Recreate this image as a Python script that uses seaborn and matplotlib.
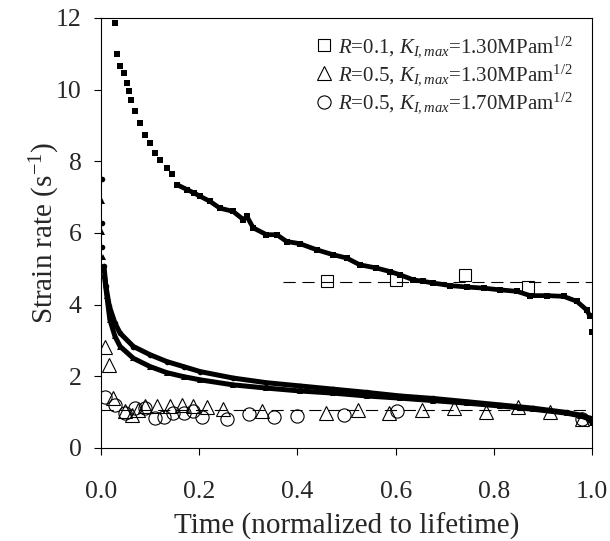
import numpy as np
import pandas as pd
import matplotlib
matplotlib.use("Agg")
import matplotlib.pyplot as plt
import seaborn as sns

# filled small squares, R=0.1 curve
sq_x = [0.0285, 0.033, 0.039, 0.047, 0.052, 0.057, 0.061, 0.069, 0.079, 0.090, 0.100, 0.110,
        0.120, 0.134, 0.144, 0.154, 0.175, 0.190, 0.202, 0.222, 0.242, 0.269, 0.290, 0.297,
        0.310, 0.337, 0.358, 0.378, 0.405, 0.439, 0.473, 0.500, 0.527, 0.561, 0.589, 0.609,
        0.636, 0.656, 0.677, 0.711, 0.745, 0.779, 0.813, 0.847, 0.874, 0.908, 0.942, 0.969,
        0.989, 0.996, 1.0]
sq_y = [11.86, 10.99, 10.65, 10.45, 10.19, 9.95, 9.70, 9.39, 9.07, 8.74, 8.52, 8.24,
        8.04, 7.80, 7.63, 7.35, 7.21, 7.11, 7.02, 6.88, 6.69, 6.60, 6.37, 6.46,
        6.14, 5.95, 5.95, 5.76, 5.70, 5.53, 5.39, 5.30, 5.11, 5.02, 4.92, 4.83,
        4.69, 4.65, 4.60, 4.53, 4.49, 4.46, 4.41, 4.37, 4.25, 4.25, 4.23, 4.09,
        3.85, 3.67, 3.23]

# filled small circles (upper band) and triangles (lower band), R=0.5 curves
cf_x = [0.001, 0.002, 0.003, 0.006, 0.010, 0.017, 0.0285, 0.039, 0.066, 0.10, 0.134, 0.168,
        0.202, 0.269, 0.337, 0.405, 0.473, 0.541, 0.609, 0.677, 0.745, 0.813, 0.880, 0.948,
        0.975, 0.996, 1.0]
cf_y = [7.50, 6.28, 5.60, 5.07, 4.51, 3.95, 3.48, 3.20, 2.83, 2.60, 2.41, 2.27,
        2.13, 1.95, 1.82, 1.73, 1.64, 1.55, 1.45, 1.38, 1.29, 1.20, 1.11, 0.99,
        0.92, 0.83, 0.72]
tf_x = [0.001, 0.002, 0.004, 0.007, 0.012, 0.018, 0.0285, 0.039, 0.066, 0.10, 0.134, 0.168,
        0.202, 0.269, 0.337, 0.405, 0.473, 0.541, 0.609, 0.677, 0.745, 0.813, 0.880, 0.948,
        0.975, 0.996, 1.0]
tf_y = [6.88, 6.02, 5.34, 4.79, 4.23, 3.58, 3.11, 2.83, 2.50, 2.27, 2.10, 1.99,
        1.90, 1.76, 1.67, 1.59, 1.53, 1.45, 1.39, 1.32, 1.25, 1.17, 1.08, 0.97,
        0.90, 0.80, 0.70]

# open markers
osq_x = [0.460, 0.601, 0.742, 0.870]
osq_y = [4.66, 4.69, 4.82, 4.49]
otri_x = [0.008, 0.017, 0.025, 0.049, 0.0625, 0.076, 0.090, 0.113, 0.140, 0.164, 0.188, 0.215,
          0.249, 0.327, 0.458, 0.524, 0.587, 0.653, 0.718, 0.785, 0.850, 0.914, 0.979]
otri_y = [2.83, 2.32, 1.38, 1.03, 0.92, 1.06, 1.17, 1.17, 1.17, 1.20, 1.17, 1.14,
          1.08, 1.03, 0.97, 1.05, 0.97, 1.05, 1.12, 1.01, 1.13, 1.01, 0.82]
ocir_x = [0.008, 0.0285, 0.049, 0.069, 0.090, 0.110, 0.128, 0.147, 0.168, 0.187, 0.205, 0.256,
          0.302, 0.353, 0.399, 0.495, 0.602, 0.979]
ocir_y = [1.42, 1.20, 0.97, 1.11, 1.11, 0.83, 0.87, 0.97, 0.97, 1.04, 0.87, 0.80,
          0.95, 0.87, 0.89, 0.92, 1.02, 0.82]

# dashed average levels
fit_sq_x = [0.371, 1.0]
fit_sq_y = [4.62, 4.62]
fit_low_x = [0.0, 1.0]
fit_low_y = [1.06, 1.06]

labels = [r"$R$=0.1, $K_{I,max}$=1.30MPam$^{1/2}$",
          r"$R$=0.5, $K_{I,max}$=1.30MPam$^{1/2}$",
          r"$R$=0.5, $K_{I,max}$=1.70MPam$^{1/2}$"]

sns.set_style("ticks")
plt.rcParams['font.family'] = ['Liberation Serif', 'DejaVu Serif']
plt.rcParams['mathtext.fontset'] = 'custom'
plt.rcParams['mathtext.rm'] = 'Liberation Serif'
plt.rcParams['mathtext.it'] = 'Liberation Serif:italic'

fig = plt.figure(figsize=(6.1, 5.41), dpi=100)
ax = fig.add_axes([0.1656, 0.172, 0.805, 0.795])

# dense filled curves
sns.lineplot(x=sq_x[15:-1], y=sq_y[15:-1], ax=ax, color='black', lw=3.4, sort=False, estimator=None)
sns.lineplot(x=sq_x, y=sq_y, ax=ax, color='black', linestyle='none', marker='s', markersize=4.5,
             markeredgewidth=0, sort=False, estimator=None)
sns.lineplot(x=cf_x[3:], y=cf_y[3:], ax=ax, color='black', lw=3.6, sort=False, estimator=None)
sns.lineplot(x=tf_x[3:], y=tf_y[3:], ax=ax, color='black', lw=3.6, sort=False, estimator=None)
sns.lineplot(x=cf_x, y=cf_y, ax=ax, color='black', linestyle='none', marker='o', markersize=4,
             markeredgewidth=0, sort=False, estimator=None)
sns.lineplot(x=tf_x, y=tf_y, ax=ax, color='black', linestyle='none', marker='^', markersize=4,
             markeredgewidth=0, sort=False, estimator=None)

# dashed levels
sns.lineplot(x=fit_sq_x, y=fit_sq_y, ax=ax, color='black', lw=0.8, linestyle=(0, (11, 6)),
             sort=False, estimator=None)
sns.lineplot(x=fit_low_x, y=fit_low_y, ax=ax, color='black', lw=0.8, linestyle=(0, (11, 6)),
             sort=False, estimator=None)

# open markers (legend entries)
open_sets = [(osq_x, osq_y, 's', 8.5), (otri_x, otri_y, '^', 10), (ocir_x, ocir_y, 'o', 9.5)]
for (xs, ys, mk, ms), lab in zip(open_sets, labels):
    sns.lineplot(x=xs, y=ys, ax=ax, color='black', linestyle='none', marker=mk, markersize=ms,
                 markerfacecolor='none', markeredgecolor='black', markeredgewidth=0.8,
                 label=lab, sort=False, estimator=None)

ax.set_xlim(0, 1.0)
ax.set_ylim(0, 12)
ax.set_xticks(np.arange(0, 1.01, 0.2))
ax.set_xticklabels([f"{v:.1f}" for v in np.arange(0, 1.01, 0.2)])
ax.set_yticks(np.arange(0, 13, 2))
ax.tick_params(axis='both', direction='out', length=5, width=0.8, labelsize=18.5, color='black')
ax.tick_params(axis='x', pad=19)
ax.tick_params(axis='y', pad=9)
for s in ax.spines.values():
    s.set_linewidth(0.8)
    s.set_color('black')

ax.set_xlabel("Time (normalized to lifetime)", fontsize=21)
ax.set_ylabel(r"Strain rate (s$^{-1}$)", fontsize=21)
ax.xaxis.set_label_coords(0.5, -0.15)
ax.yaxis.set_label_coords(-0.08, 0.5)

leg = ax.legend(loc='upper right', frameon=False, fontsize=15, handlelength=0.8,
                handletextpad=0.25, labelspacing=0.15, borderaxespad=0.3, bbox_to_anchor=(0.99, 0.995))

fig.savefig("out.png", dpi=100)
